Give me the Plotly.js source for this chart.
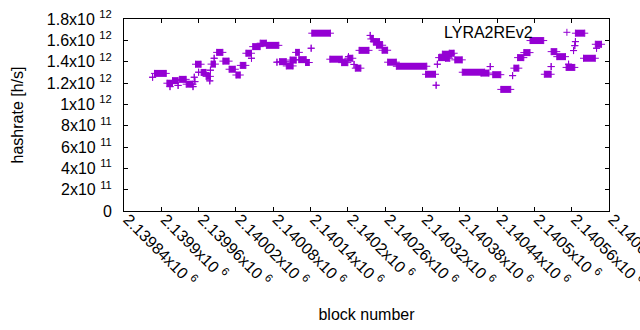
<!DOCTYPE html>
<html><head><meta charset="utf-8">
<script src="https://cdn.plot.ly/plotly-3.0.1.min.js"></script>
<style>html,body{margin:0;padding:0;background:#fff}#chart{width:640px;height:330px}</style>
</head><body><div id="chart"></div>
<script>
const seriesName = "LYRA2REv2";
// runs of consecutive blocks sharing the same hashrate value
const runStart = [2139886,2139889,2139909,2139914,2139918,2139927,2139929,2139940,2139951,2139953,
  2139954,2139955,2139960,2139964,2139972,2139978,2139979,2139980,2139985,2139989,
  2139999,2140009,2140020,2140027,2140036,2140045,2140047,2140059,2140069,2140086,
  2140090,2140101,2140107,2140116,2140121,2140132,2140141,2140142,2140171,2140190,
  2140201,2140200,2140210,2140212,2140218,2140236,2140237,2140241,2140246,2140255,
  2140264,2140278,2140325,2140342,2140344,2140346,2140352,2140357,2140363,2140372,
  2140384,2140414,2140429,2140433,2140446,2140465,2140467,2140473,2140483,2140493,
  2140516,2140527,2140527,2140536,2140551,2140555,2140563,2140565,2140566,2140566,
  2140579,2140598,2140600];
const runEnd = [2139886,2139908,2139918,2139914,2139927,2139927,2139940,2139951,2139951,2139953,
  2139954,2139964,2139960,2139972,2139979,2139978,2139979,2139987,2139985,2139999,
  2140009,2140019,2140027,2140036,2140045,2140045,2140059,2140069,2140089,2140086,
  2140101,2140112,2140117,2140122,2140133,2140138,2140141,2140172,2140191,2140200,
  2140201,2140208,2140210,2140221,2140234,2140236,2140241,2140251,2140256,2140264,
  2140278,2140327,2140341,2140342,2140344,2140357,2140367,2140364,2140371,2140384,
  2140420,2140427,2140429,2140446,2140462,2140465,2140475,2140483,2140493,2140515,
  2140527,2140527,2140536,2140550,2140565,2140555,2140563,2140565,2140566,2140581,
  2140598,2140608,2140600];
const runHashrate = [1.254e12,1.290e12,1.198e12,1.166e12,1.222e12,1.177e12,1.234e12,1.189e12,1.166e12,1.254e12,
  1.213e12,1.376e12,1.301e12,1.299e12,1.262e12,1.220e12,1.320e12,1.377e12,1.432e12,1.487e12,
  1.405e12,1.329e12,1.275e12,1.365e12,1.479e12,1.432e12,1.541e12,1.573e12,1.553e12,1.395e12,
  1.400e12,1.360e12,1.415e12,1.487e12,1.419e12,1.392e12,1.526e12,1.667e12,1.423e12,1.391e12,
  1.447e12,1.432e12,1.374e12,1.339e12,1.506e12,1.646e12,1.613e12,1.588e12,1.554e12,1.507e12,
  1.395e12,1.357e12,1.282e12,1.179e12,1.376e12,1.438e12,1.470e12,1.432e12,1.479e12,1.417e12,
  1.301e12,1.293e12,1.354e12,1.278e12,1.140e12,1.269e12,1.339e12,1.438e12,1.485e12,1.598e12,
  1.282e12,1.354e12,1.494e12,1.447e12,1.346e12,1.376e12,1.504e12,1.550e12,1.588e12,1.667e12,
  1.432e12,1.563e12,1.526e12];

const xTickVals = [2139840,2139900,2139960,2140020,2140080,2140140,2140200,2140260,2140320,2140380,2140440,2140500,2140560,2140620];
const xTickText = ["2.13984x10 <sup>6</sup>","2.1399x10 <sup>6</sup>","2.13996x10 <sup>6</sup>","2.14002x10 <sup>6</sup>",
  "2.14008x10 <sup>6</sup>","2.14014x10 <sup>6</sup>","2.1402x10 <sup>6</sup>","2.14026x10 <sup>6</sup>",
  "2.14032x10 <sup>6</sup>","2.14038x10 <sup>6</sup>","2.14044x10 <sup>6</sup>","2.1405x10 <sup>6</sup>",
  "2.14056x10 <sup>6</sup>","2.14062x10 <sup>6</sup>"];
const yTickVals = [0,2e11,4e11,6e11,8e11,1e12,1.2e12,1.4e12,1.6e12,1.8e12];
const yTickText = ["0","2x10 <sup>11</sup>","4x10 <sup>11</sup>","6x10 <sup>11</sup>","8x10 <sup>11</sup>",
  "1x10 <sup>12</sup>","1.2x10 <sup>12</sup>","1.4x10 <sup>12</sup>","1.6x10 <sup>12</sup>","1.8x10 <sup>12</sup>"];

const purple = "#9400d3";
const xs = [], ys = [];
for (let i = 0; i < runStart.length; i++) {
  xs.push(runStart[i], runEnd[i], null);
  ys.push(runHashrate[i], runHashrate[i], null);
}

const font = {family: "Liberation Sans, Arial, sans-serif", size: 16, color: "#000"};
const trace = {
  type: "scatter", mode: "lines+markers", name: seriesName, x: xs, y: ys,
  connectgaps: false,
  line: {color: purple, width: 7},
  marker: {symbol: "cross-thin", size: 5, color: purple, line: {color: purple, width: 1}},
  hoverinfo: "x+y"
};

// key sample position (pixels inside the plot box)
const W = 485, H = 192;
const kx = (567.3 - 124.4) / W, ky = (211 - 32.3) / H;
const dx = 3.5 / W, dy = 3.5 / H;

const layout = {
  width: 640, height: 330,
  margin: {l: 124, r: 31, t: 19, b: 119},
  paper_bgcolor: "#fff", plot_bgcolor: "#fff",
  showlegend: false, font: font,
  xaxis: {
    range: [2139840, 2140620], tickmode: "array", tickvals: xTickVals, ticktext: xTickText,
    tickangle: 45, ticks: "inside", ticklen: 4, tickcolor: "#000", tickwidth: 1,
    ticklabeloverflow: "allow", ticklabelshift: 4, ticklabelstandoff: -8,
    showline: true, linecolor: "#000", linewidth: 1, mirror: "ticks",
    showgrid: false, zeroline: false, automargin: false, tickfont: font,
    title: {text: "block number", font: font, standoff: 20}
  },
  yaxis: {
    range: [0, 1.8e12], tickmode: "array", tickvals: yTickVals, ticktext: yTickText,
    ticks: "inside", ticklen: 4, tickcolor: "#000", tickwidth: 1,
    ticklabelstandoff: 8,
    showline: true, linecolor: "#000", linewidth: 1, mirror: "ticks",
    showgrid: false, zeroline: false, automargin: false, tickfont: font,
    title: {text: "hashrate [h/s]", font: font, standoff: 19}
  },
  annotations: [{
    text: seriesName, xref: "paper", yref: "paper", x: (535 - 124.4) / W, y: ky,
    xanchor: "right", yanchor: "middle", showarrow: false, font: font
  }],
  shapes: [
    {type: "line", xref: "paper", yref: "paper", x0: kx - dx, x1: kx + dx, y0: ky, y1: ky, line: {color: purple, width: 1}},
    {type: "line", xref: "paper", yref: "paper", x0: kx, x1: kx, y0: ky - dy, y1: ky + dy, line: {color: purple, width: 1}}
  ]
};

Plotly.newPlot("chart", [trace], layout, {staticPlot: true, displayModeBar: false});
</script>
</body></html>
